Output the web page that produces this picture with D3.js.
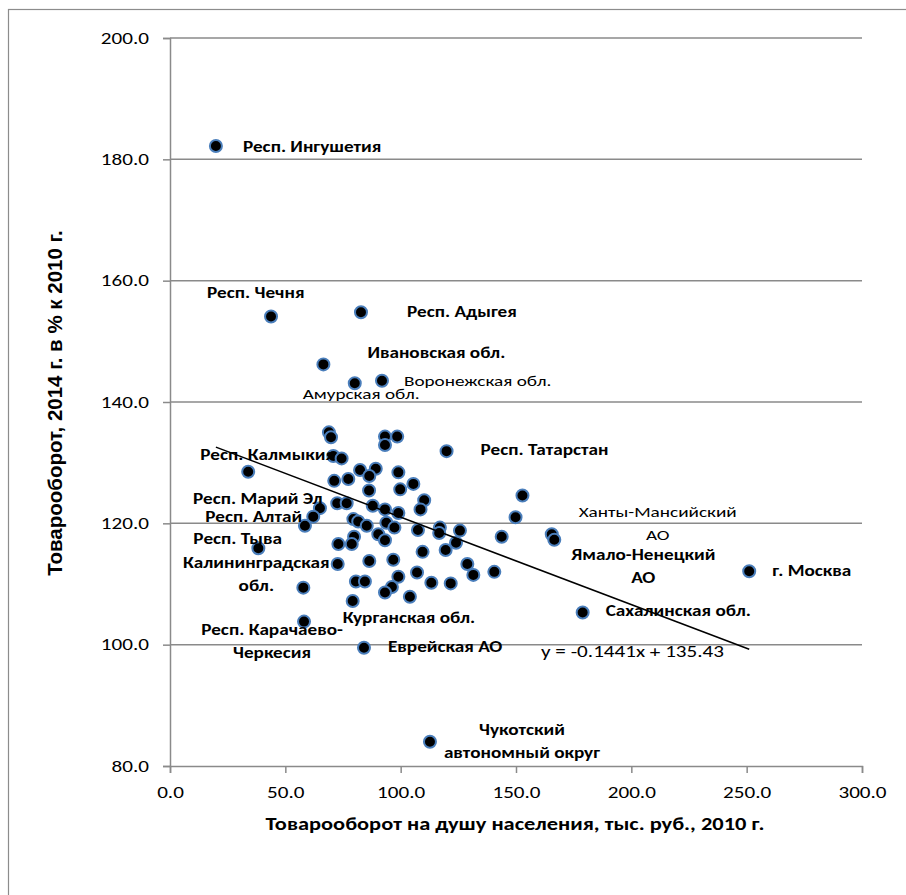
<!DOCTYPE html>
<html><head><meta charset="utf-8">
<script src="https://cdn.jsdelivr.net/npm/d3@7/dist/d3.min.js"></script>
<style>
html,body{margin:0;padding:0;background:#fff;}
svg{display:block;}
</style></head>
<body>
<script>
// ---- data ----
const xTicks = [0, 50, 100, 150, 200, 250, 300];
const yTicks = [80, 100, 120, 140, 160, 180, 200];
const xTitle = "Товарооборот на душу населения, тыс. руб., 2010 г.";
const yTitle = "Товарооборот, 2014 г.  в % к 2010 г.";
const trendSlope = -0.1441;
const trendIntercept = 135.43;
const trendLabel = "y = -0.1441x + 135.43";

// labelled regions
const regionNames = ["Респ. Ингушетия","Респ. Чечня","Респ. Адыгея","Ивановская обл.","Амурская обл.","Воронежская обл.","Респ. Калмыкия","Респ. Тыва","Калининградская обл.","Респ. Карачаево-Черкесия","Еврейская АО","Курганская обл.","Чукотский автономный округ","Сахалинская обл.","г. Москва","Ханты-Мансийский АО","Ямало-Ненецкий АО","Респ. Татарстан","Респ. Марий Эл","Респ. Алтай"];
const regionX = [19.9, 43.8, 82.8, 66.5, 80.1, 91.9, 33.9, 38.3, 57.8, 58.1, 84.1, 79.2, 112.7, 178.9, 251.1, 165.5, 166.6, 119.9, 65.0, 62.1];
const regionY = [182.2, 154.1, 154.8, 146.2, 143.1, 143.5, 128.5, 115.9, 109.4, 103.8, 99.5, 107.2, 84.0, 105.3, 112.1, 118.2, 117.3, 131.9, 122.5, 121.1];

// other regions (unlabelled)
const otherX = [68.9, 69.8, 93.2, 98.5, 93.2, 70.8, 74.4, 82.4, 89.2, 86.4, 99.0, 71.2, 77.3, 105.5, 86.3, 99.8, 110.2, 108.6, 72.5, 76.6, 58.5, 87.9, 93.2, 99.0, 79.5, 81.6, 85.3, 93.8, 97.3, 107.5, 117.0, 116.7, 125.7, 124.0, 143.8, 90.3, 93.2, 79.8, 78.8, 73.0, 109.5, 119.5, 149.8, 152.8, 86.4, 96.8, 72.7, 128.9, 131.5, 140.6, 107.1, 99.0, 80.6, 84.5, 96.2, 93.2, 113.3, 121.7, 104.0];
const otherY = [135.0, 134.2, 134.3, 134.3, 132.9, 131.1, 130.7, 128.8, 129.0, 127.8, 128.4, 127.0, 127.3, 126.5, 125.4, 125.6, 123.8, 122.3, 123.3, 123.3, 119.6, 122.9, 122.3, 121.7, 120.7, 120.3, 119.6, 120.1, 119.3, 118.9, 119.3, 118.4, 118.8, 116.8, 117.8, 118.2, 117.2, 117.8, 116.6, 116.6, 115.3, 115.6, 121.0, 124.6, 113.8, 114.0, 113.3, 113.3, 111.5, 112.0, 111.9, 111.2, 110.4, 110.4, 109.5, 108.6, 110.2, 110.1, 107.9];

// ---- label layout (pixel offsets from the point; lines, anchor, weight) ----
const labelLayout = [
  {lines:["Респ. Ингушетия"], dx:27, dy:2, anchor:"start", bold:true},
  {lines:["Респ. Чечня"], dx:-64, dy:-22, anchor:"start", bold:true},
  {lines:["Респ. Адыгея"], dx:46, dy:1, anchor:"start", bold:true},
  {lines:["Ивановская обл."], dx:44, dy:-10, anchor:"start", bold:true},
  {lines:["Амурская обл."], dx:-52, dy:12, anchor:"start", bold:false},
  {lines:["Воронежская обл."], dx:22, dy:2, anchor:"start", bold:false},
  {lines:["Респ. Калмыкия"], dx:-48, dy:-15, anchor:"start", bold:true},
  {lines:["Респ. Тыва"], dx:-65, dy:-8, anchor:"start", bold:true},
  {lines:["Калининградская","обл."], dx:-47, dy:-23, anchor:"middle", bold:true},
  {lines:["Респ. Карачаево-","Черкесия"], dx:-32, dy:10, anchor:"middle", bold:true},
  {lines:["Еврейская АО"], dx:24, dy:1, anchor:"start", bold:true},
  {lines:["Курганская обл."], dx:-10, dy:18, anchor:"start", bold:true},
  {lines:["Чукотский","автономный округ"], dx:92, dy:-10, anchor:"middle", bold:true},
  {lines:["Сахалинская обл."], dx:23, dy:0, anchor:"start", bold:true},
  {lines:["г. Москва"], dx:23, dy:1, anchor:"start", bold:true},
  {lines:["Ханты-Мансийский","АО"], dx:106, dy:-21, anchor:"middle", bold:false},
  {lines:["Ямало-Ненецкий","АО"], dx:89, dy:17, anchor:"middle", bold:true},
  {lines:["Респ. Татарстан"], dx:34, dy:0, anchor:"start", bold:true},
  {lines:["Респ. Марий Эл"], dx:-127, dy:-8, anchor:"start", bold:true},
  {lines:["Респ. Алтай"], dx:-108, dy:2, anchor:"start", bold:true}
];

// ---- chart ----
const W = 906, H = 895;
const margin = {left:170, right:W-862, top:38, bottom:H-766};
const FONT = "Carlito, Calibri, Lato, 'Open Sans', sans-serif";
const SX = 1.28; // the reference is horizontally stretched

const svg = d3.select("body").append("svg").attr("width", W).attr("height", H);

// horizontal stretch of a text element, keeping its anchor point
function stretch(el) {
  const node = el.node ? el.node() : el;
  const w = node.getComputedTextLength();
  const anchor = window.getComputedStyle(node).textAnchor;
  const k = anchor === "end" ? 1 : anchor === "middle" ? 0.5 : 0;
  const x0 = +node.getAttribute("x") || 0;
  node.setAttribute("x", x0 - w * SX * k);
  node.setAttribute("text-anchor", "start");
  node.style.textAnchor = "start";
  node.setAttribute("textLength", w * SX);
  node.setAttribute("lengthAdjust", "spacingAndGlyphs");
}

// chart border
svg.append("rect").attr("x", 8.5).attr("y", 9.5).attr("width", 1000).attr("height", 1000)
  .attr("fill", "none").attr("stroke", "#8c8c8c").attr("stroke-width", 1.2);

const x = d3.scaleLinear().domain([0, 300]).range([margin.left, W - margin.right]);
const y = d3.scaleLinear().domain([80, 200]).range([H - margin.bottom, margin.top]);

const gridColor = "#8a8a8a";

// gridlines
svg.append("g").selectAll("line").data(yTicks.filter(d => d > 80)).join("line")
  .attr("x1", x(0)).attr("x2", x(300)).attr("y1", d => y(d)).attr("y2", d => y(d))
  .attr("stroke", gridColor).attr("stroke-width", 1.5);

// y axis
const yAxis = d3.axisLeft(y).tickValues(yTicks).tickFormat(d3.format(".1f")).tickSize(7).tickPadding(14);
const gy = svg.append("g").attr("transform", `translate(${x(0)},0)`).call(yAxis);
gy.select(".domain").attr("stroke", gridColor).attr("stroke-width", 1.5);
gy.selectAll(".tick line").attr("stroke", gridColor).attr("stroke-width", 1.5);
gy.selectAll(".tick text").attr("font-family", FONT).attr("font-size", 16.5).attr("fill", "#000")
  .each(function(){ stretch(this); });

// x axis
const xAxis = d3.axisBottom(x).tickValues(xTicks).tickFormat(d3.format(".1f")).tickSize(7).tickPadding(13);
const gx = svg.append("g").attr("transform", `translate(0,${y(80)})`).call(xAxis);
gx.select(".domain").attr("stroke", gridColor).attr("stroke-width", 1.5);
gx.selectAll(".tick line").attr("stroke", gridColor).attr("stroke-width", 1.5);
gx.selectAll(".tick text").attr("font-family", FONT).attr("font-size", 16.5).attr("fill", "#000")
  .each(function(){ stretch(this); });

// axis titles
stretch(svg.append("text").attr("x", 515).attr("y", 826).attr("text-anchor", "middle")
  .attr("dominant-baseline", "middle")
  .attr("font-family", FONT).attr("font-weight", "bold").attr("font-size", 17.5).text(xTitle));

svg.append("text").attr("transform", "translate(57,403) rotate(-90)")
  .attr("text-anchor", "middle").attr("dominant-baseline", "middle")
  .attr("font-family", "'Liberation Sans', Arial, sans-serif").attr("font-weight", "bold")
  .attr("font-size", 20.5).text(yTitle);

// points
const allX = regionX.concat(otherX), allY = regionY.concat(otherY);
const pts = d3.range(allX.length).map(i => ({x: allX[i], y: allY[i]}));
svg.append("g").selectAll("circle").data(pts).join("circle")
  .attr("cx", d => x(d.x)).attr("cy", d => y(d.y)).attr("r", 6)
  .attr("fill", "#000").attr("stroke", "#4a7ebb").attr("stroke-width", 2);

// trendline
const xMin = d3.min(allX), xMax = d3.max(allX);
svg.append("line")
  .attr("x1", x(xMin)).attr("y1", y(trendSlope * xMin + trendIntercept))
  .attr("x2", x(xMax)).attr("y2", y(trendSlope * xMax + trendIntercept))
  .attr("stroke", "#000").attr("stroke-width", 1.5);

stretch(svg.append("text").attr("x", 541).attr("y", 653).attr("dominant-baseline", "middle")
  .attr("font-family", FONT).attr("font-size", 16.5).text(trendLabel));

// labels
const lg = svg.append("g");
regionNames.forEach((name, i) => {
  const L = labelLayout[i];
  L.lines.forEach((ln, k) => {
    const t = lg.append("text")
      .attr("x", x(regionX[i]) + L.dx).attr("y", y(regionY[i]) + L.dy + k * 23)
      .attr("text-anchor", L.anchor)
      .attr("font-family", FONT).attr("font-size", 15)
      .attr("font-weight", L.bold ? "bold" : "normal")
      .attr("dominant-baseline", "middle")
      .text(ln);
    stretch(t);
  });
});
</script>
</body></html>
